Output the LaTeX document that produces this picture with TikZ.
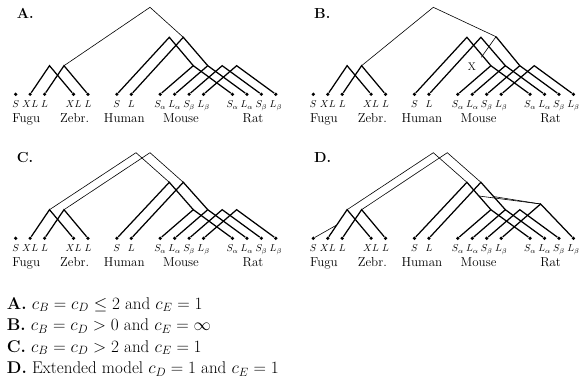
\documentclass[tikz,border=0pt]{standalone}
\usetikzlibrary{calc}
\newcommand\mkleaves[1]{%
  \foreach \n/\x/\lab in {f1/15.7/S,f2/30.15/XL,f3/44.6/L,z1/73.5/XL,z2/87.95/L,h1/116.85/S,h2/131.3/L,m1/160.2/S_\alpha,m2/174.65/L_\alpha,m3/189.1/S_\beta,m4/203.55/L_\beta,r1/232.45/S_\alpha,r2/246.9/L_\alpha,r3/261.35/S_\beta,r4/275.8/L_\beta}{%
    \node[dot] (#1\n) at (\x,94.3) {};
    \node[leaflab] (#1\n-l) at (\x,107.7) {$\lab$};
  }
  \node[splab] (#1sp1) at (26.3,122.7) {Fugu};
  \node[splab] (#1sp2) at (74.7,122.7) {Zebr.};
  \node[splab] (#1sp3) at (124.3,122.7) {Human};
  \node[splab] (#1sp4) at (181,122.7) {Mouse};
  \node[splab] (#1sp5) at (253,122.7) {Rat};
  \coordinate (#1x1) at (49.5,65.7);
  \coordinate (#1x2) at (64,65.7);
  \coordinate (#1rSa) at (193.3,65.7);
  \coordinate (#1rLa) at (207.75,65.7);
  \coordinate (#1rSb) at (222.2,65.7);
}
\newcommand\common[1]{%
  \draw[gk] (#1f2) -- (#1x1) -- (#1z1);
  \draw[gk] (#1f3) -- (#1x2) -- (#1z2);
  \draw[gk] (#1h1) -- (#1mS) -- (#1rSa);
  \draw[gk] (#1h2) -- (#1mL) -- (#1rLa);
  \draw[gk] (#1m1) -- (#1rSa) -- (#1r1);
  \draw[gk] (#1m2) -- (#1rLa) -- (#1r2);
  \draw[gk] (#1m3) -- (#1rSb) -- (#1r3);
  \draw[gk] (#1m4) -- (#1rLb) -- (#1r4);
}
\begin{document}
\begin{tikzpicture}[x=1pt,y=-1pt,
  gk/.style={line width=1.25pt},
  gt/.style={line width=0.6pt},
  dot/.style={circle, fill=black, inner sep=0pt, minimum size=3.6pt},
  leaflab/.style={anchor=base, inner sep=0pt, font=\fontsize{10}{12}\selectfont},
  splab/.style={anchor=base, inner sep=0pt, font=\fontsize{13}{15}\selectfont},
  ttl/.style={anchor=base west, inner sep=0pt, font=\fontsize{14.5}{17}\selectfont\bfseries},
  captxt/.style={anchor=base west, inner sep=0pt, font=\fontsize{17}{21}\selectfont}]
\useasboundingbox (0,0) rectangle (579,377);

% ---------- A ----------
\begin{scope}
  \mkleaves{a}
  \coordinate (arLb) at (236.65,65.7);
  \coordinate (amS) at (169.3,37.3);
  \coordinate (amL) at (183.3,37.3);
  \coordinate (aroot) at (150,7.3);
  \common{a}
  \draw[gt] (ax2) -- (aroot) -- (amL);
  \node[ttl] (aT) at (16.7,18.3) {A.};
\end{scope}

% ---------- B ----------
\begin{scope}[shift={(297.6,0)}]
  \mkleaves{b}
  \coordinate (brLb) at (236.65,65.7);
  \coordinate (bmS) at (169.3,37.3);
  \coordinate (bmL) at (183.3,37.3);
  \coordinate (broot) at (135.7,7.3);
  \coordinate (bN) at (198.4,36.7);
  \coordinate (bloss) at (183.7,57.3);
  \common{b}
  \draw[gt] (bx2) -- (broot) -- (bN);
  \draw[gk] (bN) -- (brSb);
  \draw[gt] (bN) -- (bloss);
  \node[inner sep=0pt, font=\fontsize{11}{13}\selectfont] (bX) at (174.4,67) {X};
  \node[ttl] (bT) at (16.4,18.3) {B.};
\end{scope}

% ---------- C ----------
\begin{scope}[shift={(0,144)}]
  \mkleaves{c}
  \coordinate (crLb) at (236.65,65.7);
  \coordinate (cmS) at (169.3,38.3);
  \coordinate (cmL) at (183.3,38.3);
  \coordinate (croot1) at (136,8.7);
  \coordinate (croot2) at (150,8.7);
  \common{c}
  \draw[gt] (cx1) -- (croot1) -- (cmS);
  \draw[gt] (cx2) -- (croot2) -- (cmL);
  \node[ttl] (cT) at (16.7,18.3) {C.};
\end{scope}

% ---------- D ----------
\begin{scope}[shift={(297.6,144)}]
  \mkleaves{d}
  \coordinate (drLb) at (243,60);
  \coordinate (dmS) at (169.3,38.3);
  \coordinate (dmL) at (183.3,38.3);
  \coordinate (droot1) at (135.7,8.7);
  \coordinate (droot2) at (149.7,8.7);
  \common{d}
  \draw[gt] (dx1) -- (droot1) -- (dmS);
  \draw[gt] (dx2) -- (droot2) -- (dmL);
  \coordinate (dfs) at ($(df2)!0.465!(dx1)$);
  \draw[gt] (df1) -- (dfs);
  \coordinate (dP) at ($(dmS)!0.5!(drSa)$);
  \coordinate (dQ) at ($(dmL)!0.52!(drLa)$);
  \draw[gt] (dP) -- (drLb);
  \draw[gt] (dQ) -- (drLb);
  \node[ttl] (dT) at (16.4,18.3) {D.};
\end{scope}

% ---------- caption ----------
\node[captxt] (capA) at (6.7,309) {\textbf{A.} $c_B = c_D \leq 2$ and $c_E = 1$};
\node[captxt] (capB) at (6.7,330.5) {\textbf{B.} $c_B = c_D > 0$ and $c_E = \infty$};
\node[captxt] (capC) at (6.7,352) {\textbf{C.} $c_B = c_D > 2$ and $c_E = 1$};
\node[captxt] (capD) at (6.7,373.5) {\textbf{D.} Extended model $c_D = 1$ and $c_E = 1$};
\end{tikzpicture}
\end{document}
